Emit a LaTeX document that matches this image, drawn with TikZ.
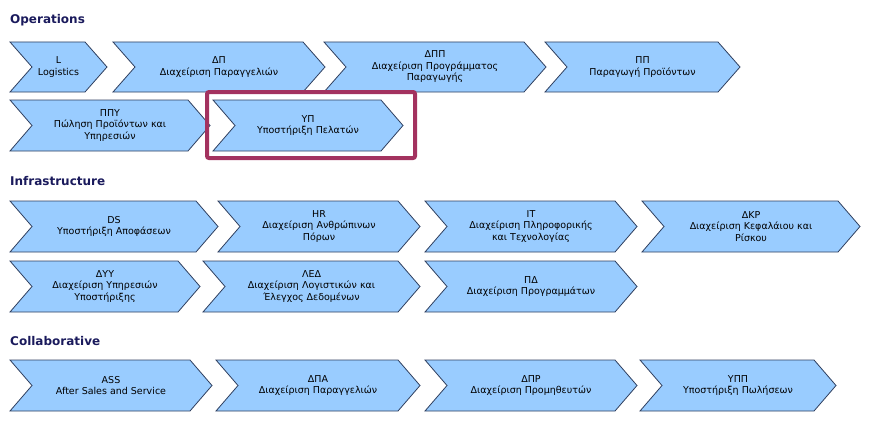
\documentclass[tikz,border=0pt]{standalone}
\usepackage{fontspec}
\setmainfont{DejaVu Sans}
\definecolor{chfill}{HTML}{99CCFF}
\definecolor{chline}{HTML}{2F3F5F}
\definecolor{headc}{HTML}{1A1A5C}
\definecolor{hilite}{HTML}{A3325F}
\newcommand\mychev[6]{%
  \fill[chfill,draw=chline,line width=0.8pt] (#2,#4) -- (#3-22,#4) -- (#3,{(#4+#5)/2}) -- (#3-22,#5) -- (#2,#5) -- (#2+22,{(#4+#5)/2}) -- cycle;
  \node[chtext] (#1) at ({(#2+#3)/2},{(#4+#5)/2}) {#6};}
\begin{document}
\begin{tikzpicture}[x=1pt,y=-1pt,
  chtext/.style={align=center,font=\fontsize{9.5}{11.5}\selectfont,inner sep=0pt},
  head/.style={anchor=west,font=\fontsize{12}{14}\selectfont\bfseries,text=headc,inner sep=0pt}]
\useasboundingbox (0,0) rectangle (875,428);
\node[head] (h1) at (10,20) {Operations};
\node[head] (h2) at (10,181) {Infrastructure};
\node[head] (h3) at (10,341) {Collaborative};
\mychev{L}{10}{107}{42}{92}{L\\Logistics}
\mychev{DP}{113}{325}{42}{92}{ΔΠ\\Διαχείριση  Παραγγελιών}
\mychev{DPP}{324}{546}{42}{92}{ΔΠΠ\\Διαχείριση  Προγράμματος\\Παραγωγής}
\mychev{PP}{545}{740}{42}{92}{ΠΠ\\Παραγωγή Προϊόντων}
\mychev{PPY}{10}{210}{100}{151}{ΠΠΥ\\Πώληση  Προϊόντων  και\\Υπηρεσιών}
\mychev{YP}{213}{403}{100}{151}{ΥΠ\\Υποστήριξη  Πελατών}
\draw[hilite,line width=4pt,rounded corners=2pt] (207,92) rectangle (415,158);
\mychev{DS}{10}{218}{201}{252}{DS\\Υποστήριξη  Αποφάσεων}
\mychev{HR}{218}{420}{201}{252}{HR\\Διαχείριση  Ανθρώπινων\\Πόρων}
\mychev{IT}{425}{637}{201}{252}{IT\\Διαχείριση  Πληροφορικής\\και Τεχνολογίας}
\mychev{DKR}{642}{860}{201}{252}{ΔΚΡ\\Διαχείριση  Κεφαλάιου  και\\Ρίσκου}
\mychev{DYY}{10}{200}{261}{312}{ΔΥΥ\\Διαχείριση  Υπηρεσιών\\Υποστήριξης}
\mychev{LED}{203}{420}{261}{312}{ΛΕΔ\\Διαχείριση  Λογιστικών  και\\Έλεγχος Δεδομένων}
\mychev{PD}{425}{637}{261}{312}{ΠΔ\\Διαχείριση  Προγραμμάτων}
\mychev{ASS}{10}{212}{360}{411}{ASS\\After Sales and Service}
\mychev{DPA}{216}{420}{360}{411}{ΔΠΑ\\Διαχείριση  Παραγγελιών}
\mychev{DPR}{425}{637}{360}{411}{ΔΠΡ\\Διαχείριση  Προμηθευτών}
\mychev{YPP}{640}{836}{360}{411}{ΥΠΠ\\Υποστήριξη  Πωλήσεων}
\end{tikzpicture}
\end{document}
